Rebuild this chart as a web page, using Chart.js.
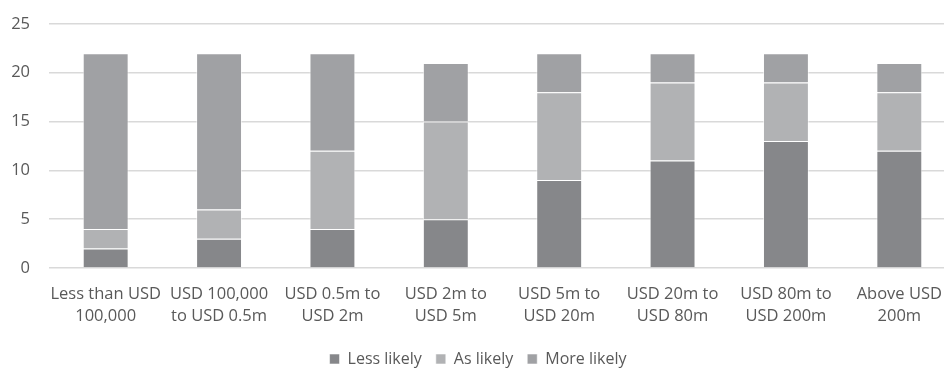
<!DOCTYPE html>
<html>
<head>
<meta charset="utf-8">
<script src="https://cdn.jsdelivr.net/npm/chart.js@4.4.0/dist/chart.umd.min.js"></script>
<style>
  html, body { margin: 0; padding: 0; background: #fff; overflow: hidden; }
  #wrap { position: relative; width: 956px; height: 382px; margin-top: -5px; }
</style>
</head>
<body>
<div id="wrap"><canvas id="chart"></canvas></div>
<script>
'use strict';

// Company size bands (two-line labels)
var categories = [
    ['Less than USD', '100,000'],
    ['USD 100,000', 'to USD 0.5m'],
    ['USD 0.5m to', 'USD 2m'],
    ['USD 2m to', 'USD 5m'],
    ['USD 5m to', 'USD 20m'],
    ['USD 20m to', 'USD 80m'],
    ['USD 80m to', 'USD 200m'],
    ['Above USD', '200m']
];

var seriesNames = ['Less likely', 'As likely', 'More likely'];
var lessLikely  = [2, 3, 4, 5, 9, 11, 13, 12];
var asLikely    = [2, 3, 8, 10, 9, 8, 6, 6];
var moreLikely  = [18, 16, 10, 6, 4, 3, 3, 3];
var yTicks      = [0, 5, 10, 15, 20, 25];

var colors = ['#86878a', '#b1b2b4', '#a0a1a4'];
var values = [lessLikely, asLikely, moreLikely];

var datasets = seriesNames.map(function (name, i) {
    return {
        label: name,
        data: values[i],
        backgroundColor: colors[i],
        borderColor: 'rgba(255,255,255,0.55)',
        borderWidth: 1,
        borderSkipped: 'bottom',
        barPercentage: 0.405,
        categoryPercentage: 1
    };
});

var family = 'Open Sans, Liberation Sans, sans-serif';
var textColor = '#595959';

new Chart(document.getElementById('chart'), {
    type: 'bar',
    data: { labels: categories, datasets: datasets },
    options: {
        responsive: true,
        maintainAspectRatio: false,
        animation: false,
        layout: { padding: { top: 2, left: 0, right: 0, bottom: 0 } },
        plugins: {
            legend: {
                position: 'bottom',
                labels: {
                    boxWidth: 10,
                    boxHeight: 10,
                    padding: 14,
                    color: textColor,
                    font: { family: family, size: 16 }
                }
            },
            tooltip: { enabled: false }
        },
        scales: {
            x: {
                stacked: true,
                grid: { display: false },
                border: { display: false },
                ticks: {
                    color: textColor,
                    font: { family: family, size: 16.5, lineHeight: 1.33 },
                    maxRotation: 0,
                    autoSkip: false,
                    padding: 7
                },
                afterFit: function (axis) { axis.height = 69; }
            },
            y: {
                stacked: true,
                min: 0,
                max: yTicks[yTicks.length - 1],
                afterBuildTicks: function (axis) {
                    axis.ticks = yTicks.map(function (v) { return { value: v }; });
                },
                afterFit: function (axis) { axis.width = 49; },
                grid: { color: '#d9d9d9', lineWidth: 1.5, drawTicks: false },
                border: { display: false },
                ticks: { color: textColor, font: { family: family, size: 16.5 }, padding: 19 }
            }
        }
    }
});
</script>
</body>
</html>
